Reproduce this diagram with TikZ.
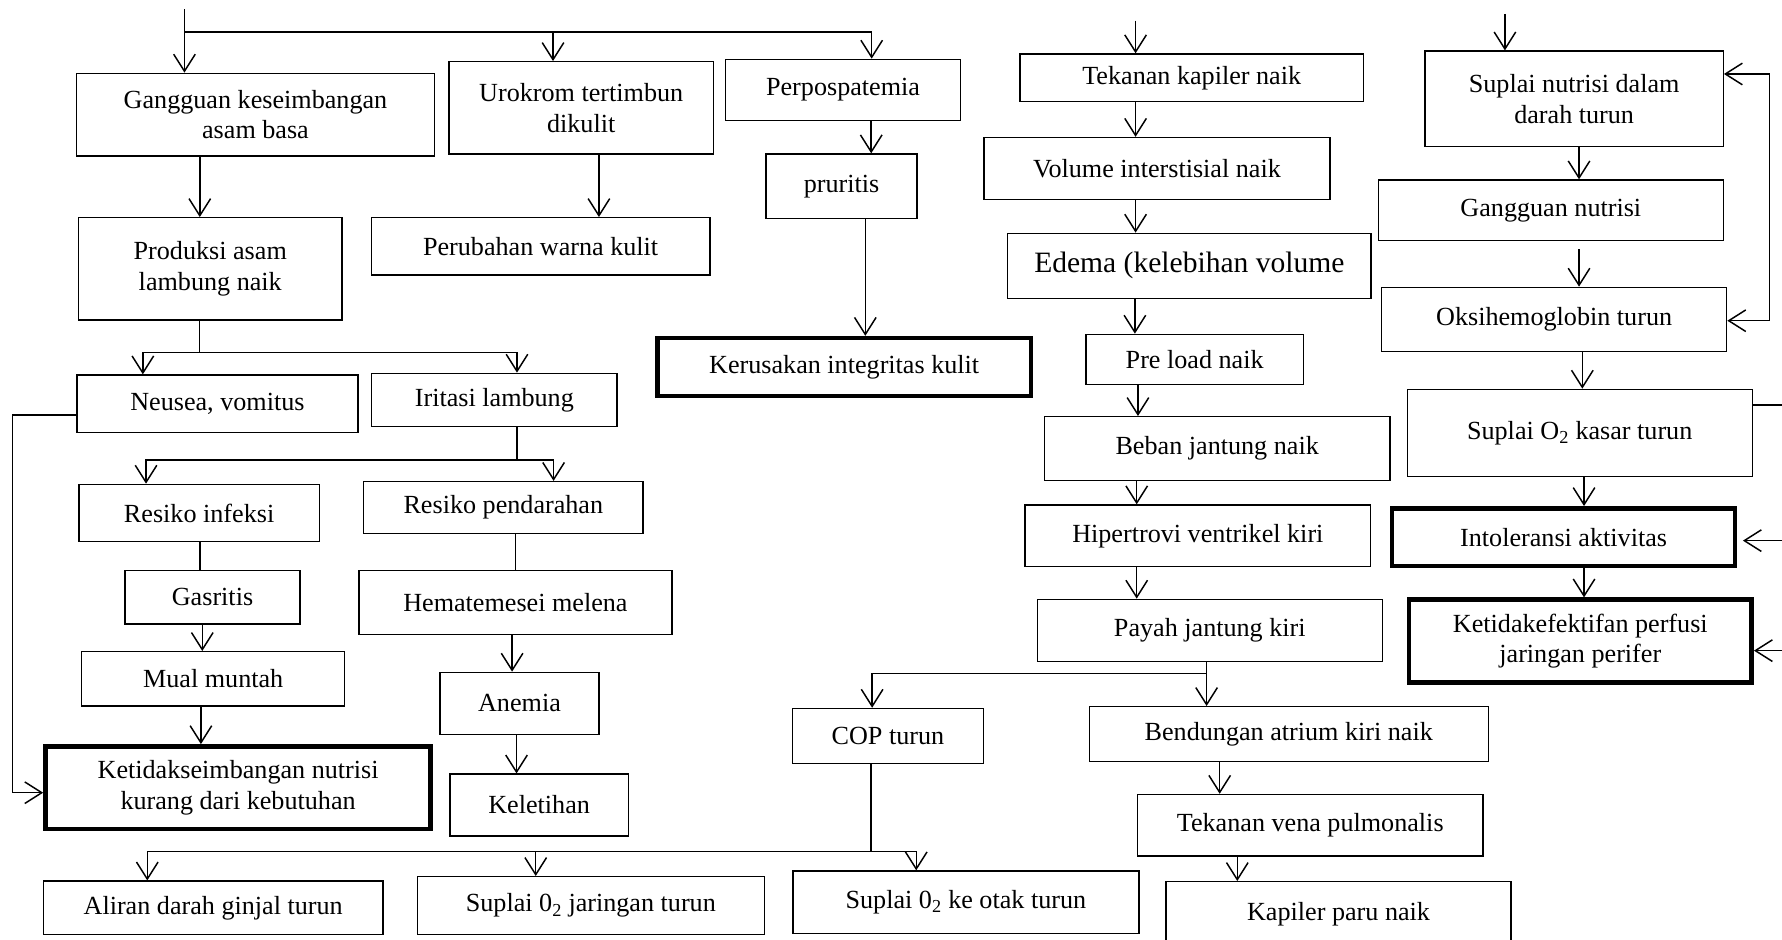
\documentclass[tikz,border=0pt]{standalone}
\usepackage{fontspec}
\setmainfont{Liberation Serif}
\usepackage{tikz}
\usetikzlibrary{arrows.meta}
\tikzset{box/.style={draw, line width=1.2pt, align=center, inner sep=2pt,
    font=\fontsize{23}{27}\selectfont}}
\tikzset{keybox/.style={box, line width=4pt}}
\tikzset{conn/.style={line width=1.3pt}}
\tikzset{arr/.style={conn, -{Straight Barb[length=15pt,width=19pt]}}}
\tikzset{barr/.style={conn, {Straight Barb[length=15pt,width=19pt]}-{Straight Barb[length=15pt,width=19pt]}}}

\begin{document}
\begin{tikzpicture}[x=1pt, y=-1pt]
  \useasboundingbox (0,0) rectangle (1568,827);

  % kolom kiri
  \node[box, minimum width=315pt, minimum height=72.8pt] (gangguan) at (224.8,100.9) {Gangguan keseimbangan\\asam basa};
  \node[box, minimum width=232.7pt, minimum height=81.2pt] (urokrom) at (511.4,94.9) {Urokrom tertimbun\\dikulit};
  \node[box, minimum width=207pt, minimum height=54pt] (perpos) at (741.8,79.2) {Perpospatemia};
  \node[box, minimum width=133pt, minimum height=56.6pt] (pruritis) at (740.5,163.8) {pruritis};
  \node[box, minimum width=298pt, minimum height=50.5pt] (perubahan) at (475.7,216.8) {Perubahan warna kulit};
  \node[keybox, minimum width=329pt, minimum height=51pt] (kerusakan) at (742.8,323) {Kerusakan integritas kulit};
  \node[box, minimum width=232pt, minimum height=90pt] (produksi) at (185,236.6) {Produksi asam\\lambung naik};
  \node[box, minimum width=247.4pt, minimum height=50.4pt] (neusea) at (191.3,355.2) {Neusea, vomitus};
  \node[box, minimum width=215.7pt, minimum height=47pt] (iritasi) at (435,352) {Iritasi lambung};
  \node[box, minimum width=211.4pt, minimum height=50.4pt] (resinf) at (175.2,451.4) {Resiko infeksi};
  \node[box, minimum width=245.6pt, minimum height=45.5pt] (resperd) at (442.9,446.5) {Resiko pendarahan};
  \node[box, minimum width=154pt, minimum height=47pt] (gasritis) at (187,525.6) {Gasritis};
  \node[box, minimum width=275.4pt, minimum height=56pt] (hemat) at (453.5,530.2) {Hematemesei melena};
  \node[box, minimum width=231.4pt, minimum height=47.8pt] (mual) at (187.6,597.3) {Mual muntah};
  \node[box, minimum width=140.2pt, minimum height=54.6pt] (anemia) at (457.1,618.9) {Anemia};
  \node[keybox, minimum width=339pt, minimum height=72.5pt] (ketidak) at (209.5,693) {Ketidakseimbangan nutrisi\\kurang dari kebutuhan};
  \node[box, minimum width=156.7pt, minimum height=54.3pt] (keletihan) at (474.4,708.3) {Keletihan};
  \node[box, minimum width=299pt, minimum height=47pt] (aliran) at (187.6,798.8) {Aliran darah ginjal turun};
  \node[box, minimum width=305.2pt, minimum height=50.8pt] (supjar) at (519.9,796.8) {Suplai 0\textsubscript{2} jaringan turun};
  \node[box, minimum width=304.4pt, minimum height=54.8pt] (supotak) at (849.9,793.8) {Suplai 0\textsubscript{2} ke otak turun};
  \node[box, minimum width=167.7pt, minimum height=48.3pt] (cop) at (781.3,647.5) {COP turun};

  % kolom tengah
  \node[box, minimum width=302pt, minimum height=42pt] (tekkap) at (1048.6,68.5) {Tekanan kapiler naik};
  \node[box, minimum width=304.4pt, minimum height=54.4pt] (volume) at (1018,148.2) {Volume interstisial naik};
  \node[box, minimum width=319.7pt, minimum height=57.2pt, font=\fontsize{26}{30}\selectfont] (edema) at (1046.5,233.9) {Edema (kelebihan volume};
  \node[box, minimum width=191.2pt, minimum height=44pt] (preload) at (1051.2,316.2) {Pre load naik};
  \node[box, minimum width=304.2pt, minimum height=56.3pt] (beban) at (1071,394.8) {Beban jantung naik};
  \node[box, minimum width=304.1pt, minimum height=54.3pt] (hiper) at (1054,471.5) {Hipertrovi ventrikel kiri};
  \node[box, minimum width=303.6pt, minimum height=54.9pt] (payah) at (1064.5,554.8) {Payah jantung kiri};
  \node[box, minimum width=351.2pt, minimum height=48.2pt] (bendung) at (1134,645.9) {Bendungan atrium kiri naik};
  \node[box, minimum width=303.7pt, minimum height=54.3pt] (tekvena) at (1152.9,726.2) {Tekanan vena pulmonalis};
  \node[box, minimum width=303.5pt, minimum height=57.2pt] (kapiler) at (1177.8,804.4) {Kapiler paru naik};

  % kolom kanan
  \node[box, minimum width=262.4pt, minimum height=84.1pt] (supnut) at (1385.1,87) {Suplai nutrisi dalam\\darah turun};
  \node[box, minimum width=303.5pt, minimum height=53.4pt] (ganut) at (1364.6,185.1) {Gangguan nutrisi};
  \node[box, minimum width=303.6pt, minimum height=56.6pt] (oksi) at (1367.5,281.1) {Oksihemoglobin turun};
  \node[box, minimum width=303.5pt, minimum height=76.8pt] (supo2) at (1390,381) {Suplai O\textsubscript{2} kasar turun};
  \node[keybox, minimum width=301.6pt, minimum height=50.9pt] (intol) at (1375.8,472.7) {Intoleransi aktivitas};
  \node[keybox, minimum width=301.6pt, minimum height=73.1pt] (ketef) at (1390.5,564.2) {Ketidakefektifan perfusi\\jaringan perifer};

  \coordinate (in1) at (162.3,8.2);
  \coordinate (in2) at (999.2,18.2);
  \coordinate (in3) at (1324.2,12.3);
  \coordinate (j1) at (162.3,28.2);
  \coordinate (j2) at (175.6,310.3);
  \coordinate (j3) at (454.9,404.8);
  \coordinate (j4) at (1061.7,592.5);
  \coordinate (j5) at (766.4,749.4);
  \coordinate (lp) at (1556.8,282.2);
  \coordinate (kiri) at (11,697.5);
  \coordinate (out1) at (1568,356.4);
  \coordinate (in4) at (1568,475.7);
  \coordinate (in5) at (1568,572.5);

  \draw[arr] (in1) -- (gangguan.north -| in1);
  \draw[arr] (j1) -| (urokrom.north -| 486.6,0);
  \draw[arr] (j1) -| (perpos.north -| 767,0);
  \draw[arr] (in2) -- (tekkap.north -| in2);
  \draw[arr] (in3) -- (supnut.north -| in3);

  \foreach \a/\b/\x in {gangguan/produksi/175.8, urokrom/perubahan/527,
      perpos/pruritis/766.6, pruritis/kerusakan/761.4, gasritis/mual/178,
      mual/ketidak/176.8, hemat/anemia/450.6, anemia/keletihan/454.5,
      tekkap/volume/999.2, volume/edema/999.2, edema/preload/998.6,
      preload/beban/1001.3, beban/hiper/1000.2, hiper/payah/1000.2,
      payah/bendung/1061.7, bendung/tekvena/1073.2, tekvena/kapiler/1088.7,
      supnut/ganut/1389.4, oksi/supo2/1392.3, supo2/intol/1393.8,
      intol/ketef/1393.8}{
    \draw[arr] (\a.south -| \x,0) -- (\b.north -| \x,0);
  };
  \draw[arr, shorten <=7pt] (ganut.south -| 1389.4,0) -- (oksi.north -| 1389.4,0);
  \draw[conn] (resinf.south -| 176,0) -- (gasritis.north -| 176,0);
  \draw[conn] (resperd.south -| 453.7,0) -- (hemat.north -| 453.7,0);

  \draw[conn] (produksi.south -| j2) -- (j2);
  \draw[arr] (j2) -| (neusea.north -| 125.7,0);
  \draw[arr] (j2) -| (iritasi.north -| 454.9,0);
  \draw[conn] (iritasi.south -| j3) -- (j3);
  \draw[arr] (j3) -| (resinf.north -| 128.5,0);
  \draw[arr] (j3) -| (resperd.north -| 487.1,0);
  \draw[arr] (neusea.west |- 0,365.2) -| (kiri) -- (ketidak.west |- kiri);

  \draw[arr] (j4) -| (cop.north -| 767.4,0);
  \draw[conn] (cop.south -| j5) -- (j5);
  \draw[arr] (j5) -| (aliran.north -| 129.6,0);
  \draw[arr] (j5) -| (supjar.north -| 471.4,0);
  \draw[arr] (j5) -| (supotak.north -| 806.2,0);

  \draw[barr] (supnut.east |- 0,65.1) -| (lp) -- (oksi.east |- lp);
  \draw[conn] (supo2.east |- out1) -- (out1);
  \draw[arr, shorten >=5pt] (in4) -- (intol.east |- in4);
  \draw[arr] (in5) -- (ketef.east |- in5);
\end{tikzpicture}
\end{document}
